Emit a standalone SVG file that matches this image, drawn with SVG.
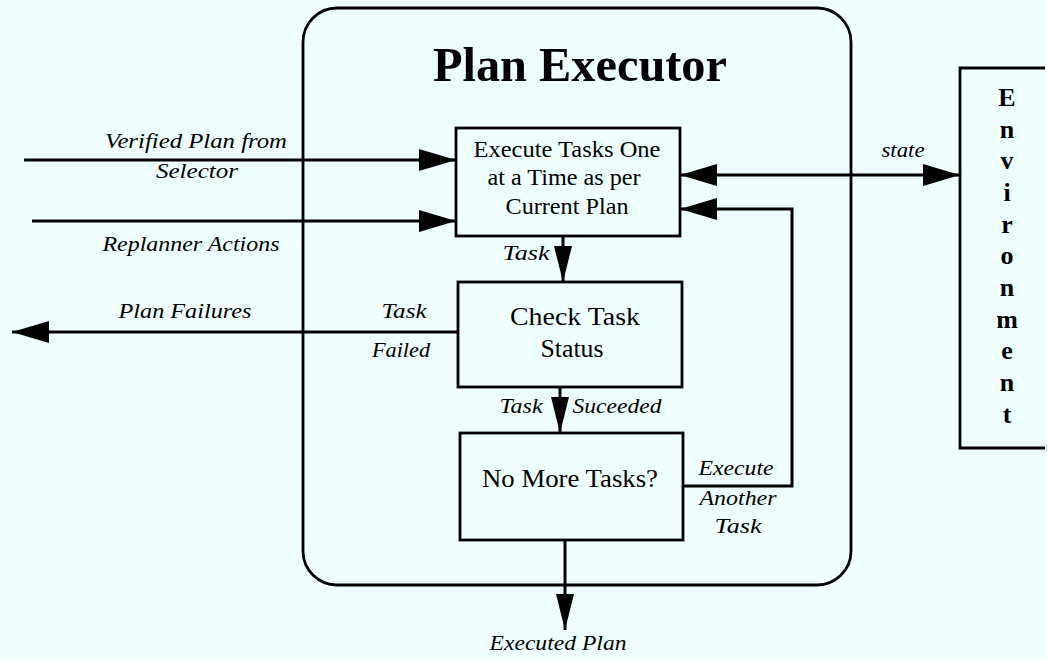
<svg xmlns="http://www.w3.org/2000/svg" width="1047" height="660" viewBox="0 0 1047 660">
  <defs>
    <marker id="arrow" markerUnits="userSpaceOnUse" markerWidth="38" markerHeight="24" refX="37" refY="11" orient="auto-start-reverse">
      <path d="M0,0 L37,11 L0,22 Z" fill="#000"/>
    </marker>
    <marker id="arrow-sm" markerUnits="userSpaceOnUse" markerWidth="38" markerHeight="20" refX="36" refY="9" orient="auto">
      <path d="M0,0 L36,9 L0,18 Z" fill="#000"/>
    </marker>
    <style>
      .box { fill: none; stroke: #000; stroke-width: 2.8; }
      .wire { fill: none; stroke: #000; stroke-width: 3; }
      .boxtext { font-family: "Liberation Serif", "Times New Roman", serif; fill: #000; text-anchor: middle; }
      .label { font-family: "Liberation Serif", "Times New Roman", serif; font-style: italic; font-size: 21px; fill: #000; text-anchor: middle; }
      .title { font-family: "Liberation Serif", "Times New Roman", serif; font-weight: bold; font-size: 48px; fill: #000; text-anchor: middle; }
      .env { font-family: "Liberation Serif", "Times New Roman", serif; font-weight: bold; font-size: 26px; fill: #000; text-anchor: middle; }
    </style>
  </defs>

  <rect width="1047" height="660" fill="#effefe"/>

  <!-- Plan Executor container -->
  <g id="plan-executor">
    <rect class="box" x="303" y="8" width="548" height="577" rx="34" ry="34" stroke-width="3"/>
    <text class="title" x="580" y="81" textLength="294" lengthAdjust="spacingAndGlyphs">Plan Executor</text>
  </g>

  <!-- Task execution step -->
  <g id="execute-tasks">
    <rect class="box" x="456" y="128" width="224" height="108"/>
    <text class="boxtext" font-size="23" x="567" y="157" textLength="187" lengthAdjust="spacingAndGlyphs">Execute Tasks One</text>
    <text class="boxtext" font-size="23" x="564" y="185" textLength="153" lengthAdjust="spacingAndGlyphs">at a Time as per</text>
    <text class="boxtext" font-size="23" x="567" y="214" textLength="123" lengthAdjust="spacingAndGlyphs">Current Plan</text>
  </g>

  <!-- Status check step -->
  <g id="check-status">
    <rect class="box" x="458" y="282" width="224" height="105"/>
    <text class="boxtext" font-size="25" x="575" y="325" textLength="130" lengthAdjust="spacingAndGlyphs">Check Task</text>
    <text class="boxtext" font-size="25" x="572" y="357" textLength="63" lengthAdjust="spacingAndGlyphs">Status</text>
  </g>

  <!-- Completion test step -->
  <g id="no-more-tasks">
    <rect class="box" x="460" y="433" width="223" height="107"/>
    <text class="boxtext" font-size="25" x="570" y="487" textLength="176" lengthAdjust="spacingAndGlyphs">No More Tasks?</text>
  </g>

  <!-- Environment -->
  <g id="environment">
    <path class="box" d="M1045,68 L960,68 L960,448 L1045,448"/>
    <text class="env" x="1007" y="106">E</text>
    <text class="env" x="1007" y="138">n</text>
    <text class="env" x="1007" y="169">v</text>
    <text class="env" x="1007" y="201">i</text>
    <text class="env" x="1007" y="233">r</text>
    <text class="env" x="1007" y="264">o</text>
    <text class="env" x="1007" y="296">n</text>
    <text class="env" x="1007" y="328">m</text>
    <text class="env" x="1007" y="359">e</text>
    <text class="env" x="1007" y="391">n</text>
    <text class="env" x="1007" y="423">t</text>
  </g>

  <!-- Connectors -->
  <g id="connectors">
    <line class="wire" x1="24" y1="160" x2="456" y2="160" marker-end="url(#arrow)"/>
    <line class="wire" x1="32" y1="221" x2="456" y2="221" marker-end="url(#arrow)"/>
    <line class="wire" x1="458" y1="332" x2="12" y2="332" marker-end="url(#arrow)"/>
    <line class="wire" x1="680" y1="175" x2="960" y2="175" marker-start="url(#arrow)" marker-end="url(#arrow)"/>
    <line class="wire" x1="563" y1="236" x2="563" y2="282" marker-end="url(#arrow-sm)"/>
    <line class="wire" x1="560" y1="387" x2="560" y2="433" marker-end="url(#arrow-sm)"/>
    <polyline class="wire" points="683,486 792,486 792,209 680,209" marker-end="url(#arrow)"/>
    <line class="wire" x1="565" y1="540" x2="565" y2="630" marker-end="url(#arrow-sm)"/>
  </g>

  <!-- Connector labels -->
  <g id="labels">
    <text class="label" x="196" y="148" textLength="182" lengthAdjust="spacingAndGlyphs">Verified Plan from</text>
    <text class="label" x="197" y="178" textLength="82" lengthAdjust="spacingAndGlyphs">Selector</text>
    <text class="label" x="191" y="251" textLength="177" lengthAdjust="spacingAndGlyphs">Replanner Actions</text>
    <text class="label" x="185" y="318" textLength="133" lengthAdjust="spacingAndGlyphs">Plan Failures</text>
    <text class="label" x="404" y="318" textLength="45" lengthAdjust="spacingAndGlyphs">Task</text>
    <text class="label" x="401" y="357" textLength="58" lengthAdjust="spacingAndGlyphs">Failed</text>
    <text class="label" x="903" y="157" textLength="43" lengthAdjust="spacingAndGlyphs">state</text>
    <text class="label" x="526" y="260" textLength="47" lengthAdjust="spacingAndGlyphs">Task</text>
    <text class="label" x="521" y="413" textLength="43" lengthAdjust="spacingAndGlyphs">Task</text>
    <text class="label" x="617" y="413" textLength="89" lengthAdjust="spacingAndGlyphs">Suceeded</text>
    <text class="label" x="736" y="475" textLength="75" lengthAdjust="spacingAndGlyphs">Execute</text>
    <text class="label" x="738" y="505" textLength="77" lengthAdjust="spacingAndGlyphs">Another</text>
    <text class="label" x="738" y="533" textLength="47" lengthAdjust="spacingAndGlyphs">Task</text>
    <text class="label" x="558" y="650" textLength="137" lengthAdjust="spacingAndGlyphs">Executed Plan</text>
  </g>
</svg>
